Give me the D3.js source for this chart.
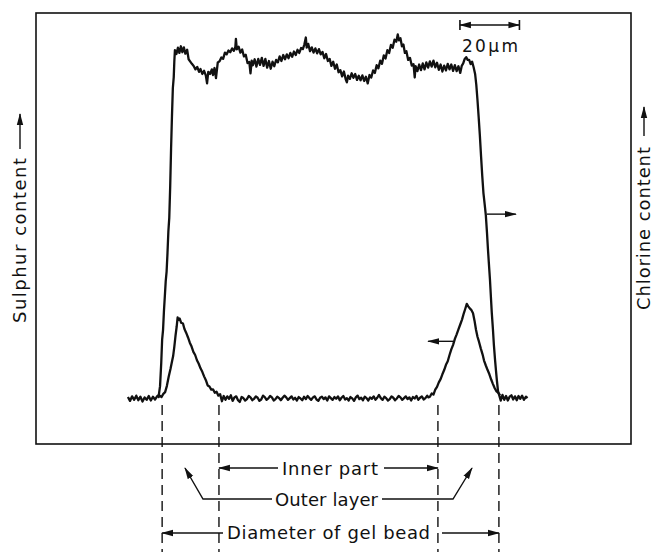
<!DOCTYPE html>
<html>
<head>
<meta charset="utf-8">
<script src="https://cdn.jsdelivr.net/npm/d3@7"></script>
<style>
  html, body { margin: 0; padding: 0; background: #fff; }
  svg { display: block; }
  text { font-family: "DejaVu Sans", sans-serif; fill: #111; }
</style>
</head>
<body>
<svg id="chart" width="653" height="552"></svg>
<script>
"use strict";

// Sulphur line scan across the bead: [position (um), content (a.u.)]
const sulphurProfile = [
    [30.9,0.4],[31.6,-0.7],[32.3,0.6],[33.0,-0.4],[33.7,0.8],[34.4,-0.5],[35.1,0.5],[35.8,-0.9],[36.5,0.3],[37.2,-0.4],
    [37.9,0.7],[38.6,-0.6],[39.3,0.5],[40.0,-0.3],[40.7,0.6],[41.3,1.1],
    [41.7,3.5],[42.1,10.2],[42.4,16.8],[42.7,19.5],[43.0,24.8],[43.3,29.1],[43.6,33.4],[43.9,36.2],[44.2,41.5],[44.5,47.8],
    [44.8,51.6],[45.1,60.3],[45.4,71.2],[45.7,80.5],[46.0,88.6],[46.3,91.7],[46.5,96.3],[46.7,99.4],
    [47.2,98.3],[47.7,100.1],[48.2,98.6],[48.7,100.5],[49.2,98.8],[49.7,100.2],[50.2,98.4],[50.8,99.5],[51.3,96.8],[51.8,96.2],
    [52.4,95.5],[53.0,94.9],[53.6,93.9],[54.2,94.6],[54.8,93.2],[55.3,94.0],[55.9,92.6],[56.5,93.5],[57.1,92.1],[57.5,89.9],
    [57.9,93.2],[58.5,92.6],[59.1,93.9],[59.5,92.3],[60.0,94.3],[60.5,91.4],[61.1,95.9],[61.7,96.2],[62.3,97.3],[62.9,96.9],
    [63.5,98.7],[64.1,98.2],[64.7,99.3],[65.3,98.8],[65.9,99.9],[66.5,99.2],[67.0,100.3],[67.2,102.6],[67.5,99.6],[68.1,100.4],
    [68.7,98.7],[69.3,99.6],[69.9,97.6],[70.5,98.1],[71.1,95.7],[71.7,96.0],[72.1,92.8],[72.5,96.4],[72.9,95.1],[73.5,96.8],
    [74.1,94.7],[74.7,96.9],[75.3,95.2],[75.9,97.2],[76.5,94.9],[77.1,96.9],[77.7,94.4],[78.3,96.3],[78.9,94.1],[79.5,96.1],
    [80.1,94.8],[80.7,96.6],[81.3,95.9],[81.9,97.6],[82.5,96.3],[83.1,98.0],[83.7,96.8],[84.3,98.2],[84.9,97.1],[85.5,98.6],
    [86.1,97.5],[86.7,99.0],[87.3,98.0],[87.9,99.5],[88.5,98.6],[89.1,100.0],[89.7,99.7],[90.2,101.0],[90.7,103.0],[91.0,100.1],
    [91.5,101.2],[92.1,99.1],[92.7,100.2],[93.3,98.7],[93.9,99.9],[94.5,98.5],[95.1,99.7],[95.7,98.2],[96.3,98.9],[96.9,97.1],
    [97.5,98.3],[98.1,96.3],[98.7,96.9],[99.3,94.9],[99.9,96.1],[100.5,94.1],[101.1,95.3],[101.7,93.1],[102.3,93.7],[102.9,91.9],
    [103.5,93.3],[104.1,91.1],[104.5,90.2],[104.9,92.1],[105.5,91.2],[106.1,92.8],[106.7,91.5],[107.3,92.6],[107.9,90.9],[108.5,92.1],
    [109.1,90.8],[109.7,92.2],[110.3,90.6],[110.9,91.8],[111.5,89.9],[112.1,92.3],[112.7,91.6],[113.3,93.6],[113.9,92.9],[114.5,95.1],
    [115.1,94.2],[115.7,96.4],[116.3,95.5],[116.9,97.9],[117.5,97.0],[118.1,99.4],[118.7,98.6],[119.3,100.9],[119.9,100.1],[120.5,102.4],
    [121.1,101.8],[121.6,103.9],[122.0,102.2],[122.5,102.8],[123.0,100.5],[123.5,101.0],[124.0,98.6],[124.5,99.1],[125.1,96.6],[125.7,97.2],
    [126.3,95.0],[126.9,95.4],[127.3,91.6],[127.6,94.8],[128.2,93.4],[128.8,95.3],[129.4,93.7],[130.0,95.6],[130.6,93.9],[131.2,95.9],
    [131.8,94.4],[132.4,96.2],[133.0,94.7],[133.6,96.4],[134.2,94.5],[134.8,95.8],[135.4,93.8],[136.0,95.3],[136.6,93.3],[137.2,95.0],
    [137.8,93.6],[138.4,95.5],[139.0,93.9],[139.6,95.3],[140.2,93.5],[140.8,95.1],[141.4,93.4],[142.0,94.8],[142.6,92.9],[143.1,94.9],
    [143.6,95.6],[144.1,96.9],[144.6,97.4],[145.1,96.6],[145.6,96.6],[146.1,95.4],[146.6,96.1],[147.1,94.5],[147.6,92.6],[148.0,89.5],
    [148.4,85.1],[148.8,80.2],[149.2,75.0],[149.6,69.1],[150.0,63.5],[150.4,58.6],[150.8,55.5],[151.2,52.3],[151.6,47.2],[151.9,42.8],
    [152.2,38.9],[152.6,33.8],[152.9,29.1],[153.2,24.5],[153.6,19.6],[153.9,15.4],[154.3,11.0],[154.6,8.1],[154.9,5.3],[155.3,2.1],
    [155.7,0.9],[156.2,-0.6],[156.8,1.0],[157.4,-0.4],[158.0,0.7],[158.6,-0.6],[159.2,0.5],[159.8,0.9],[160.4,-0.3],[161.0,0.6],
    [161.6,-0.5],[162.2,0.7],[162.8,-0.1],[163.4,0.8],[164.0,-0.4],[164.7,0.5],[165.2,0.1]
];

// Chlorine line scan across the bead: [position (um), content (a.u.)]
const chlorineProfile = [
    [41.0,0.2],[41.6,0.8],[42.2,0.4],[42.8,1.3],[43.4,1.8],[44.0,3.6],[44.6,6.2],[45.2,8.4],[45.8,10.9],[46.1,12.1],
    [46.5,14.8],[46.9,17.9],[47.3,20.6],[47.6,23.1],[47.9,22.4],[48.3,22.8],[48.8,21.6],[49.4,21.4],[49.9,19.8],[50.5,18.7],
    [51.1,17.4],[51.7,15.9],[52.3,14.8],[52.9,13.3],[53.5,12.4],[54.1,10.9],[54.7,9.9],[55.3,8.6],[55.9,7.6],[56.5,6.3],
    [57.1,5.2],[57.7,3.7],[58.3,3.4],[58.9,2.5],[59.5,2.6],[60.1,1.6],[60.7,1.9],[61.3,0.8],[61.9,1.2],[62.5,-0.8],
    [63.1,0.7],[63.7,-0.4],[64.3,0.6],[64.9,-0.1],[65.5,0.9],[66.1,-0.7],[66.7,0.3],[67.3,0.6],[67.9,-0.5],[68.5,-1.0],
    [69.1,0.4],[69.7,0.1],[70.3,-0.6],[70.9,-0.2],[71.5,0.7],[72.1,0.3],[72.7,-0.5],[73.3,-0.1],[73.9,0.6],[74.5,0.2],
    [75.1,-0.7],[75.7,-0.3],[76.3,0.8],[76.9,0.4],[77.5,-0.4],[78.1,0.0],[78.7,0.7],[79.3,0.3],[79.9,-0.6],[80.5,-0.2],
    [81.1,0.5],[81.7,0.1],[82.3,-0.5],[82.9,0.2],[83.5,0.8],[84.1,0.3],[84.7,-0.4],[85.3,0.1],[85.9,0.6],[86.5,-0.3],
    [87.1,0.2],[87.7,-0.6],[88.3,0.4],[88.9,0.0],[89.5,-0.5],[90.1,0.5],[90.7,-0.2],[91.3,0.7],[91.9,0.1],[92.5,-0.4],
    [93.1,0.3],[93.7,0.6],[94.3,-0.3],[94.9,-0.7],[95.5,0.2],[96.1,0.5],[96.7,-0.2],[97.3,0.3],[97.9,-0.6],[98.5,0.6],
    [99.1,0.1],[99.7,-0.4],[100.3,0.4],[100.9,-0.1],[101.5,0.6],[102.1,-0.5],[102.7,0.2],[103.3,0.7],[103.9,-0.3],[104.5,0.1],
    [105.1,-0.6],[105.7,0.4],[106.3,0.0],[106.9,-0.7],[107.5,0.3],[108.1,0.8],[108.7,-0.2],[109.3,0.2],[109.9,-0.5],[110.5,0.5],
    [111.1,0.1],[111.7,-0.6],[112.3,0.3],[112.9,-0.1],[113.5,0.6],[114.1,-0.4],[114.7,0.2],[115.3,1.0],[115.9,0.1],[116.5,-0.4],
    [117.1,0.5],[117.7,0.1],[118.3,-0.6],[118.9,-0.2],[119.5,0.6],[120.1,0.2],[120.7,-0.5],[121.3,0.0],[121.9,0.7],[122.5,0.3],
    [123.1,-0.4],[123.7,0.1],[124.3,0.6],[124.9,-0.2],[125.5,0.3],[126.1,-0.6],[126.7,0.4],[127.3,0.0],[127.9,0.7],[128.5,-0.4],
    [129.1,0.2],[129.7,0.6],[130.3,-0.3],[130.9,0.1],[131.5,0.8],[131.9,0.3],
    [132.4,0.5],[133.0,1.4],[133.6,1.1],[134.2,2.5],[134.8,3.3],[135.4,4.6],[136.0,5.5],[136.6,6.9],[137.2,8.1],[137.8,9.6],
    [138.4,10.6],[139.0,12.4],[139.6,14.0],[140.2,15.3],[140.8,17.0],[141.4,18.3],[142.0,19.7],[142.6,21.1],[143.2,22.5],[143.8,24.3],
    [144.3,25.6],[144.8,27.0],[145.3,26.3],[145.8,25.7],[146.3,25.3],[146.9,24.3],[147.4,22.2],[147.9,19.6],[148.4,17.6],[148.9,16.2],
    [149.5,14.3],[150.1,12.6],[150.6,10.8],[151.2,9.4],[151.8,8.1],[152.4,6.9],[153.0,5.4],[153.6,4.1],[154.2,2.9],[154.8,2.0],
    [155.4,1.6],[156.0,0.9]
];

// Bead boundaries (um)
const beadEdges = [42.4, 155.6];
const innerEdges = [61.5, 135.1];

// Scale bar (um)
const scaleBar = [142.5, 162.5];

// Curve arrows: [y value, from x, to x]
const sulphurArrow = [52.6, 151.6, 161.3];
const chlorineArrow = [16.3, 140.2, 131.8];

const svg = d3.select("#chart");

const x = d3.scaleLinear().domain([0, 200]).range([36, 631]),
    y = d3.scaleLinear().domain([-13, 110]).range([444, 13]);

// Arrowhead
svg.append("defs").append("marker")
    .attr("id", "head")
    .attr("viewBox", "0 -4 12 8")
    .attr("refX", 11)
    .attr("refY", 0)
    .attr("markerUnits", "userSpaceOnUse")
    .attr("markerWidth", 12)
    .attr("markerHeight", 8)
    .attr("orient", "auto")
    .append("path")
    .attr("d", "M0,-3.2L12,0L0,3.2Z")
    .attr("fill", "#111");

// Frame
svg.append("rect")
    .attr("x", x(0)).attr("y", y(110))
    .attr("width", x(200) - x(0)).attr("height", y(-13) - y(110))
    .attr("fill", "none").attr("stroke", "#111").attr("stroke-width", 1.6);

// Profiles
const line = d3.line().x((d) => x(d[0])).y((d) => y(d[1]));
[chlorineProfile, sulphurProfile].forEach((profile) => {
    svg.append("path")
        .datum(profile)
        .attr("d", line)
        .attr("fill", "none")
        .attr("stroke", "#111")
        .attr("stroke-width", 2.3)
        .attr("stroke-linejoin", "round");
});

// Arrows on the curves
[sulphurArrow, chlorineArrow].forEach((a) => {
    svg.append("line")
        .attr("x1", x(a[1])).attr("x2", x(a[2]))
        .attr("y1", y(a[0])).attr("y2", y(a[0]))
        .attr("stroke", "#111").attr("stroke-width", 1.4)
        .attr("marker-end", "url(#head)");
});

// Dashed boundary lines
beadEdges.concat(innerEdges).forEach((e) => {
    svg.append("line")
        .attr("x1", x(e)).attr("x2", x(e))
        .attr("y1", 405).attr("y2", 552)
        .attr("stroke", "#111").attr("stroke-width", 1.4)
        .attr("stroke-dasharray", "10,6");
});

// Scale bar
const sbY = 25;
svg.append("line")
    .attr("x1", x(scaleBar[0]) + 6).attr("x2", x(scaleBar[0]))
    .attr("y1", sbY).attr("y2", sbY)
    .attr("stroke", "#111").attr("stroke-width", 1.4)
    .attr("marker-end", "url(#head)");
svg.append("line")
    .attr("x1", x(scaleBar[0]) + 6).attr("x2", x(scaleBar[1]))
    .attr("y1", sbY).attr("y2", sbY)
    .attr("stroke", "#111").attr("stroke-width", 1.4)
    .attr("marker-end", "url(#head)");
scaleBar.forEach((s) => {
    svg.append("line")
        .attr("x1", x(s)).attr("x2", x(s))
        .attr("y1", sbY - 5).attr("y2", sbY + 5)
        .attr("stroke", "#111").attr("stroke-width", 1.6);
});
svg.append("text")
    .attr("x", x(scaleBar[0]) + 2).attr("y", 52)
    .attr("font-size", 17)
    .attr("textLength", 56).attr("lengthAdjust", "spacing")
    .text("20μm");

// Axis labels
function axisLabel(text, xPos, yStart, len, arrowFrom, arrowTo) {
    svg.append("text")
        .attr("transform", `translate(${xPos},${yStart}) rotate(-90)`)
        .attr("font-size", 18)
        .attr("textLength", len).attr("lengthAdjust", "spacing")
        .text(text);
    svg.append("line")
        .attr("x1", xPos - 6).attr("x2", xPos - 6)
        .attr("y1", arrowFrom).attr("y2", arrowTo)
        .attr("stroke", "#111").attr("stroke-width", 1.4)
        .attr("marker-end", "url(#head)");
}
axisLabel("Sulphur content", 26, 323, 165, 149, 114);
axisLabel("Chlorine content", 650, 310, 163, 136, 107);

// Dimension annotations
function label(text, x0, x1, yBase) {
    svg.append("text")
        .attr("x", x0).attr("y", yBase)
        .attr("font-size", 18)
        .attr("textLength", x1 - x0).attr("lengthAdjust", "spacing")
        .text(text);
}
function arrowPath(points) {
    svg.append("path")
        .attr("d", d3.line()(points))
        .attr("fill", "none")
        .attr("stroke", "#111").attr("stroke-width", 1.4)
        .attr("marker-end", "url(#head)");
}

// Inner part
label("Inner part", 282, 378, 475);
arrowPath([[278, 468], [x(innerEdges[0]), 468]]);
arrowPath([[384, 468], [x(innerEdges[1]), 468]]);

// Outer layer
label("Outer layer", 275, 378, 506);
arrowPath([[272, 499], [203, 499], [185, 468]]);
arrowPath([[382, 499], [453, 499], [472, 468]]);

// Diameter of gel bead
label("Diameter of gel bead", 227, 430, 539);
arrowPath([[223, 533], [x(beadEdges[0]), 533]]);
arrowPath([[442, 533], [x(beadEdges[1]), 533]]);
</script>
</body>
</html>
